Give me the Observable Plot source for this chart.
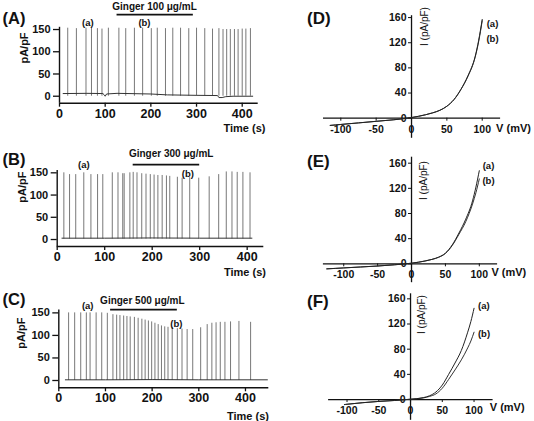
<!DOCTYPE html>
<html>
<head>
<meta charset="utf-8">
<script src="https://cdn.jsdelivr.net/npm/d3@7"></script>
<script src="https://cdn.jsdelivr.net/npm/@observablehq/plot@0.6"></script>
<style>
  body { margin: 0; background: #fff; }
  #fig { position: relative; width: 534px; height: 421px; overflow: hidden; background: #fff; }
</style>
</head>
<body>
<div id="fig"></div>
<script>
const FONT = '"Liberation Sans", Arial, Helvetica, sans-serif';

// ---- Spontaneous outward currents (pA/pF) over time (s) ----
const spikeTimesA = [18, 37, 58, 70, 83, 93, 107, 130, 145, 164, 182, 201, 214, 232, 248, 265, 283, 300, 318, 335, 349, 358, 366, 374, 383, 391, 400, 408, 418];
const spikePeaksA = [153, 152, 153, 153, 152, 151, 153, 153, 152, 153, 153, 152, 153, 152, 153, 153, 152, 153, 152, 151, 152, 150, 150, 150, 150, 150, 151, 151, 152];
const baseTimesA = [8, 60, 95, 98, 100, 103, 126, 200, 236, 300, 346, 349, 356, 364, 380, 423];
const baseValuesA = [6, 6.5, 6, 3, 0, 5, 6.5, 5, 3, 2, 1.5, -3, -3, -1, 0, 0];

const spikeTimesB = [14, 26, 39, 56, 71, 85, 96, 116, 128, 138, 141, 153, 160, 168, 178, 187, 196, 204, 212, 221, 230, 237, 253, 263, 279, 298, 320, 340, 356, 368, 379, 391, 406];
const spikePeaksB = [150, 146, 146, 150, 146, 146, 146, 150, 150, 148, 148, 150, 151, 150, 148, 147, 146, 145, 144, 144, 143, 142, 140, 138, 139, 138, 141, 146, 152, 152, 151, 151, 150];
const baseTimesB = [10, 100, 200, 300, 410];
const baseValuesB = [3, 3, 3.5, 3, 3];

const spikeTimesC = [21, 34, 47, 59, 67, 80, 92, 104, 116, 124, 131, 139, 146, 153, 162, 170, 178, 185, 192, 199, 206, 213, 220, 227, 234, 243, 254, 264, 275, 287, 304, 318, 328, 337, 346, 356, 368, 386, 411];
const spikePeaksC = [150, 150, 150, 150, 150, 150, 150, 149, 146, 145, 144, 143, 142, 141, 140, 138, 136, 134, 132, 130, 127, 124, 121, 119, 118, 117, 115, 114, 113, 113, 117, 124, 127, 128, 129, 129, 130, 131, 129];
const baseTimesC = [14, 100, 200, 300, 447];
const baseValuesC = [1.5, 1.5, 2, 1.5, 1.5];

const gingerDoses = ["Ginger 100 μg/mL", "Ginger 300 μg/mL", "Ginger 500 μg/mL"];
const gingerStart = [126, 160, 111];
const gingerEnd = [293, 300, 254];

const timeTicks = [0, 100, 200, 300, 400];
const currentTicks = [0, 50, 100, 150];

// ---- Current–voltage relations, before (a) and during (b) ginger ----
const voltD = [-115, -100, -75, -50, -25, 0, 10, 20, 30, 40, 50, 60, 70, 80, 90, 95, 100];
const ivDa = [-11.5, -10, -7.5, -5, -2.5, 1, 3, 5.5, 8.5, 12.5, 19, 29.5, 46, 68, 98, 124, 157];
const ivDb = [-11.5, -10, -7.5, -5, -2.5, 1, 3, 5.5, 8.5, 12.5, 19, 29.5, 46, 67, 97, 122, 155];

const voltE = [-125, -100, -75, -50, -25, 0, 20, 30, 40, 50, 60, 70, 80, 90, 95, 100];
const ivEa = [-8, -6.5, -5, -3.5, -1.5, 1, 4.5, 7, 10.5, 17, 30, 49, 71, 100, 122, 148];
const ivEb = [-8, -6.5, -5, -3.5, -1.5, 1, 4.5, 7, 10.5, 16.5, 29, 47, 67, 95, 113, 135];

const voltF = [-104, -100, -75, -50, -25, 0, 20, 30, 40, 50, 60, 70, 80, 90, 95, 100];
const ivFa = [-8, -7.5, -5, -3, -1.5, 0.5, 3, 6, 12, 23, 40, 58, 78, 107, 124, 145];
const ivFb = [-8, -7.5, -5, -3, -1.5, 0.5, 2.5, 5, 9, 18, 32, 47, 63, 82, 93, 107];

const voltTicks = [-100, -50, 0, 50, 100];
const ivTicks = [0, 40, 80, 120, 160];

// ---- layout helpers ----
const fig = document.getElementById("fig");

// margins so that the scale ranges land on the given page pixels
function dimsFor(box, xPx, yPx) {
  return {
    width: box.w, height: box.h,
    marginLeft: xPx[0] - box.left,
    marginRight: box.left + box.w - xPx[1],
    marginTop: yPx[1] - box.top,
    marginBottom: box.top + box.h - yPx[0]
  };
}
// anchor an annotation at a page pixel position
function placer(box, dims) {
  return (px, py) => ({frameAnchor: "top-left", dx: px - box.left - dims.marginLeft, dy: py - box.top - dims.marginTop});
}
function styleFor(box) {
  return {position: "absolute", left: box.left + "px", top: box.top + "px", overflow: "visible",
          background: "transparent", fontFamily: FONT, color: "#111"};
}
const bold = {fontFamily: FONT, fontWeight: "bold", fill: "#111"};

function tracePanel(o) {
  const dims = dimsFor(o.box, o.xPx, o.yPx);
  const at = placer(o.box, dims);
  const spikes = o.times.map((t, i) => ({t, peak: o.peaks[i]}));
  const base = o.baseT.map((t, i) => ({t, v: o.baseV[i]}));
  const [y0, y1] = o.yDomain;
  const svg = Plot.plot({
    ...dims,
    style: styleFor(o.box),
    x: {domain: o.xDomain},
    y: {domain: o.yDomain},
    marks: [
      Plot.ruleY([y0], {x1: 0, x2: o.xDomain[1], stroke: "#111", strokeWidth: 1.4}),
      Plot.ruleX([0], {y1: y0, y2: y1, stroke: "#111", strokeWidth: 1.4}),
      Plot.axisX(timeTicks, {anchor: "bottom", tickSize: 4, tickPadding: 1.5, fontSize: 12.5, fontWeight: "bold", label: null, strokeWidth: 1.3}),
      Plot.axisY(currentTicks, {anchor: "left", tickSize: 6, tickPadding: 3, fontSize: 11, fontWeight: "bold", label: null, strokeWidth: 1.3}),
      Plot.ruleX(spikes, {x: "t", y1: o.foot, y2: "peak", stroke: "#555", strokeWidth: 0.8}),
      Plot.line(base, {x: "t", y: "v", stroke: "#333", strokeWidth: 1}),
      Plot.ruleY([o.barLevel], {x1: o.gStart, x2: o.gEnd, stroke: "#111", strokeWidth: 1.7}),
      Plot.text([o.dose], {x: o.doseX, y: o.doseY, text: d => d, fontSize: 10, lineAnchor: "middle", ...bold}),
      Plot.text(["(a)"], {x: o.aPos[0], y: o.aPos[1], text: d => d, fontSize: 9.5, lineAnchor: "middle", ...bold}),
      Plot.text(["(b)"], {x: o.bPos[0], y: o.bPos[1], text: d => d, fontSize: 9.5, lineAnchor: "middle", ...bold}),
      Plot.text([o.letter], {...at(o.letterPos[0], o.letterPos[1]), text: d => d, fontSize: 16.5, textAnchor: "start", lineAnchor: "middle", ...bold}),
      Plot.text(["pA/pF"], {...at(o.unitPos[0], o.unitPos[1]), text: d => d, rotate: -90, fontSize: 11, textAnchor: "middle", lineAnchor: "middle", ...bold}),
      Plot.text(["Time (s)"], {...at(o.timePos[0], o.timePos[1]), text: d => d, fontSize: 11, textAnchor: "middle", lineAnchor: "middle", ...bold})
    ]
  });
  fig.appendChild(svg);
}

function ivPanel(o) {
  const dims = dimsFor(o.box, o.xPx, o.yPx);
  const at = placer(o.box, dims);
  const curveA = o.volt.map((v, i) => ({v, i: o.ia[i]}));
  const curveB = o.volt.map((v, i) => ({v, i: o.ib[i]}));
  const [x0, x1] = o.xDomain;
  const [y0, y1] = o.yDomain;
  // offsets from the frame edges to the zero lines
  const xScale = d3.scaleLinear(o.xDomain, o.xPx);
  const yScale = d3.scaleLinear(o.yDomain, o.yPx);
  const dxAxis = xScale(0) - o.xPx[0];
  const dyAxis = yScale(0) - o.yPx[0];
  const svg = Plot.plot({
    ...dims,
    style: styleFor(o.box),
    x: {domain: o.xDomain},
    y: {domain: o.yDomain},
    marks: [
      Plot.ruleY([0], {x1: x0, x2: x1, stroke: "#111", strokeWidth: 1.3}),
      Plot.ruleX([0], {y1: y0, y2: y1, stroke: "#111", strokeWidth: 1.3}),
      Plot.axisX(voltTicks, {anchor: "bottom", dy: dyAxis, tickSize: 3, tickPadding: 4, fontSize: 10.5, fontWeight: "bold", label: null, tickFormat: d => String(d)}),
      Plot.axisY(ivTicks, {anchor: "left", dx: dxAxis, tickSize: 3, tickPadding: 2, fontSize: 10.5, fontWeight: "bold", label: null}),
      Plot.line(curveB, {x: "v", y: "i", curve: "monotone-x", stroke: "#333", strokeWidth: 1}),
      Plot.line(curveA, {x: "v", y: "i", curve: "monotone-x", stroke: "#222", strokeWidth: 1}),
      Plot.text(["(a)"], {...at(o.aPos[0], o.aPos[1]), text: d => d, fontSize: 9.5, textAnchor: "middle", lineAnchor: "middle", ...bold}),
      Plot.text(["(b)"], {...at(o.bPos[0], o.bPos[1]), text: d => d, fontSize: 9.5, textAnchor: "middle", lineAnchor: "middle", ...bold}),
      Plot.text([o.letter], {...at(o.letterPos[0], o.letterPos[1]), text: d => d, fontSize: 17, textAnchor: "start", lineAnchor: "middle", ...bold}),
      Plot.text(["I (pA/pF)"], {...at(o.unitPos[0], o.unitPos[1]), text: d => d, rotate: -90, fontSize: 10, textAnchor: "middle", lineAnchor: "middle", fontFamily: FONT, fill: "#111"}),
      Plot.text(["V (mV)"], {...at(o.vPos[0], o.vPos[1]), text: d => d, fontSize: 11, textAnchor: "middle", lineAnchor: "middle", ...bold})
    ]
  });
  fig.appendChild(svg);
}

// (A) 100 μg/mL
tracePanel({
  box: {left: 0, top: 0, w: 270, h: 140},
  xDomain: [0, 435], xPx: [59, 257.7],
  yDomain: [-15.7, 155], yPx: [102.7, 26.8],
  times: spikeTimesA, peaks: spikePeaksA, baseT: baseTimesA, baseV: baseValuesA, foot: 0,
  barLevel: 183.7, gStart: gingerStart[0], gEnd: gingerEnd[0],
  dose: gingerDoses[0], doseX: 208, doseY: 202,
  aPos: [62, 165], bPos: [186, 165],
  letter: "(A)", letterPos: [2, 18.5], unitPos: [24, 47.5], timePos: [244, 127.8]
});
// (B) 300 μg/mL
tracePanel({
  box: {left: 0, top: 140, w: 270, h: 140},
  xDomain: [0, 435], xPx: [56.7, 263.3],
  yDomain: [-15.7, 155], yPx: [246, 170.1],
  times: spikeTimesB, peaks: spikePeaksB, baseT: baseTimesB, baseV: baseValuesB, foot: 1,
  barLevel: 168.6, gStart: gingerStart[1], gEnd: gingerEnd[1],
  dose: gingerDoses[1], doseX: 240, doseY: 192.7,
  aPos: [56, 168.6], bPos: [275, 147.7],
  letter: "(B)", letterPos: [2, 159], unitPos: [21.5, 186.7], timePos: [244.5, 272]
});
// (C) 500 μg/mL
tracePanel({
  box: {left: 0, top: 280, w: 270, h: 141},
  xDomain: [0, 450], xPx: [58.3, 268.3],
  yDomain: [-16.2, 156.6], yPx: [387.3, 309.4],
  times: spikeTimesC, peaks: spikePeaksC, baseT: baseTimesC, baseV: baseValuesC, foot: 0,
  barLevel: 157, gStart: gingerStart[2], gEnd: gingerEnd[2],
  dose: gingerDoses[2], doseX: 179, doseY: 177,
  aPos: [62, 165], bPos: [252, 126],
  letter: "(C)", letterPos: [2, 299], unitPos: [21, 332.7], timePos: [247.5, 415.5]
});

// (D)–(F) I–V curves
ivPanel({
  box: {left: 300, top: 0, w: 234, h: 140},
  xDomain: [-124.5, 126], xPx: [323, 500.1],
  yDomain: [-32, 163], yPx: [137.8, 15.2],
  volt: voltD, ia: ivDa, ib: ivDb,
  aPos: [492, 23.3], bPos: [492, 38],
  letter: "(D)", letterPos: [306.5, 18.5], unitPos: [424, 26], vPos: [513, 128.3]
});
ivPanel({
  box: {left: 300, top: 140, w: 234, h: 140},
  xDomain: [-130, 127], xPx: [322.9, 497.1],
  yDomain: [-30, 169.5], yPx: [282.2, 156.7],
  volt: voltE, ia: ivEa, ib: ivEb,
  aPos: [488, 165], bPos: [488, 180.7],
  letter: "(E)", letterPos: [306.5, 160.8], unitPos: [423.3, 180], vPos: [508.3, 271.7]
});
ivPanel({
  box: {left: 300, top: 280, w: 234, h: 141},
  xDomain: [-129, 130], xPx: [328.1, 492.6],
  yDomain: [-33, 168], yPx: [419.8, 293.3],
  volt: voltF, ia: ivFa, ib: ivFb,
  aPos: [483.3, 305], bPos: [483.5, 333.3],
  letter: "(F)", letterPos: [306.5, 300.8], unitPos: [421.7, 314], vPos: [506.7, 407.3]
});
</script>
</body>
</html>
